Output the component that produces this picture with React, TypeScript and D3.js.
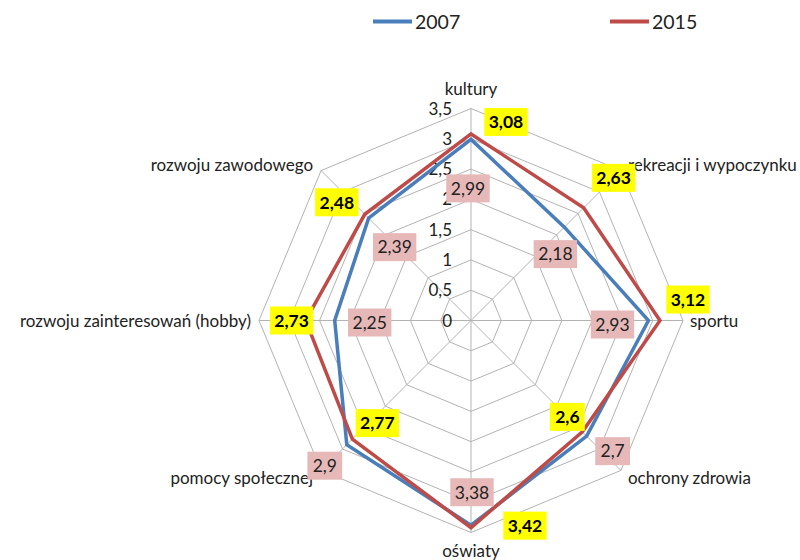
import React from 'react'
import * as d3 from 'd3'

const categories = [
  'kultury',
  'rekreacji i wypoczynku',
  'sportu',
  'ochrony zdrowia',
  'oświaty',
  'pomocy społecznej',
  'rozwoju zainteresowań (hobby)',
  'rozwoju zawodowego',
]
const values2007 = [2.99, 2.18, 2.93, 2.7, 3.38, 2.9, 2.25, 2.39]
const values2015 = [3.08, 2.63, 3.12, 2.6, 3.42, 2.77, 2.73, 2.48]
const tickValues = [0, 0.5, 1, 1.5, 2, 2.5, 3, 3.5]
const seriesNames = ['2007', '2015']

// labels were dragged by hand in the original, so keep the nudges (px from the point)
const nudge2007 = [[-3, 49], [-9, 27], [-36, 4], [26, 15], [1, -33], [-22, 21], [35, 2], [26, 29]]
const nudge2015 = [[35, -12], [30, -30], [28, -21], [-15, -15], [54, -2], [25, -16], [-14, 0], [-28, -12]]

const width = 800
const height = 560
const cx = 471
const cy = 320.5
const R = 212
const font = 'Lato, "Open Sans", sans-serif'

const blue = '#4a7ebb'
const red = '#be4b48'
const grid = '#b3b3b3'

const pl = d3.formatLocale({ decimal: ',', thousands: ' ', grouping: [3], currency: ['', ' zł'] })
const fmt = pl.format('~g')

const App = () => {
  const r = d3.scaleLinear().domain([0, 3.5]).range([0, R])
  const step = (2 * Math.PI) / categories.length
  const a = (i: number) => i * step

  const pos = (i: number, v: number): [number, number] => [
    cx + r(v) * Math.sin(a(i)),
    cy - r(v) * Math.cos(a(i)),
  ]

  const radial = d3.lineRadial<number>()
    .angle((_, i) => a(i))
    .radius(v => r(v))
    .curve(d3.curveLinearClosed)

  const ring = (v: number) => radial(categories.map(() => v)) as string

  const labelBox = (txt: string, x: number, y: number, fill: string, bold: boolean, key: string) => {
    const w = txt.length * 8.6 + 9
    const h = 28
    return (
      <g key={key}>
        <rect x={x - w / 2} y={y - h / 2} width={w} height={h} fill={fill} />
        <text x={x} y={y} dy="0.36em" textAnchor="middle" fontSize={17.5}
          fontWeight={bold ? 'bold' : 'normal'} fill={bold ? '#000' : '#222'}>{txt}</text>
      </g>
    )
  }

  return (
    <svg width={width} height={height} style={{ position: 'absolute', left: 0, top: 0, background: '#fff' }}
      fontFamily={font}>
      <rect width={width} height={height} fill="#fff" />

      {/* legend */}
      <g>
        <line x1={373} x2={412} y1={21.5} y2={21.5} stroke={blue} strokeWidth={4} />
        <text x={415} y={21.5} dy="0.36em" fontSize={19.5} fill="#222">{seriesNames[0]}</text>
        <line x1={610} x2={649} y1={21.5} y2={21.5} stroke={red} strokeWidth={4} />
        <text x={652} y={21.5} dy="0.36em" fontSize={19.5} fill="#222">{seriesNames[1]}</text>
      </g>

      {/* grid */}
      <g transform={`translate(${cx},${cy})`} fill="none" stroke={grid} strokeWidth={1}>
        {tickValues.slice(1).map(t => <path key={t} d={ring(t)} />)}
        {categories.map((c, i) => (
          <line key={c} x1={0} y1={0} x2={r(3.5) * Math.sin(a(i))} y2={-r(3.5) * Math.cos(a(i))} />
        ))}
      </g>

      {/* tick labels */}
      <g fontSize={17} fill="#222" textAnchor="end">
        {tickValues.map(t => (
          <text key={t} x={cx - 19} y={cy - r(t)} dy="0.36em">{fmt(t)}</text>
        ))}
      </g>

      {/* series */}
      <g transform={`translate(${cx},${cy})`} fill="none" strokeWidth={3.5} strokeLinejoin="miter">
        <path d={radial(values2007) as string} stroke={blue} />
        <path d={radial(values2015) as string} stroke={red} />
      </g>

      {/* category labels */}
      <g fontSize={17} fill="#222">
        {categories.map((c, i) => {
          const [vx, vy] = pos(i, 3.5)
          const s = Math.sin(a(i))
          const co = Math.cos(a(i))
          const anchor = s > 0.1 ? 'start' : s < -0.1 ? 'end' : 'middle'
          const dx = s > 0.1 ? 7 : s < -0.1 ? -8 : 0
          let dy = 0
          if (Math.abs(s) < 0.1) dy = co > 0 ? -20 : 18
          else if (Math.abs(co) > 0.1) dy = co > 0 ? -6 : 7
          return (
            <text key={c} x={vx + dx} y={vy + dy} dy="0.36em" textAnchor={anchor}>{c}</text>
          )
        })}
      </g>

      {/* data labels */}
      <g>
        {values2007.map((v, i) => {
          const [x, y] = pos(i, v)
          return labelBox(fmt(v), x + nudge2007[i][0], y + nudge2007[i][1], '#e6b9b8', false, 'a' + i)
        })}
        {values2015.map((v, i) => {
          const [x, y] = pos(i, v)
          return labelBox(fmt(v), x + nudge2015[i][0], y + nudge2015[i][1], '#ffff00', true, 'b' + i)
        })}
      </g>
    </svg>
  )
}

export default App
